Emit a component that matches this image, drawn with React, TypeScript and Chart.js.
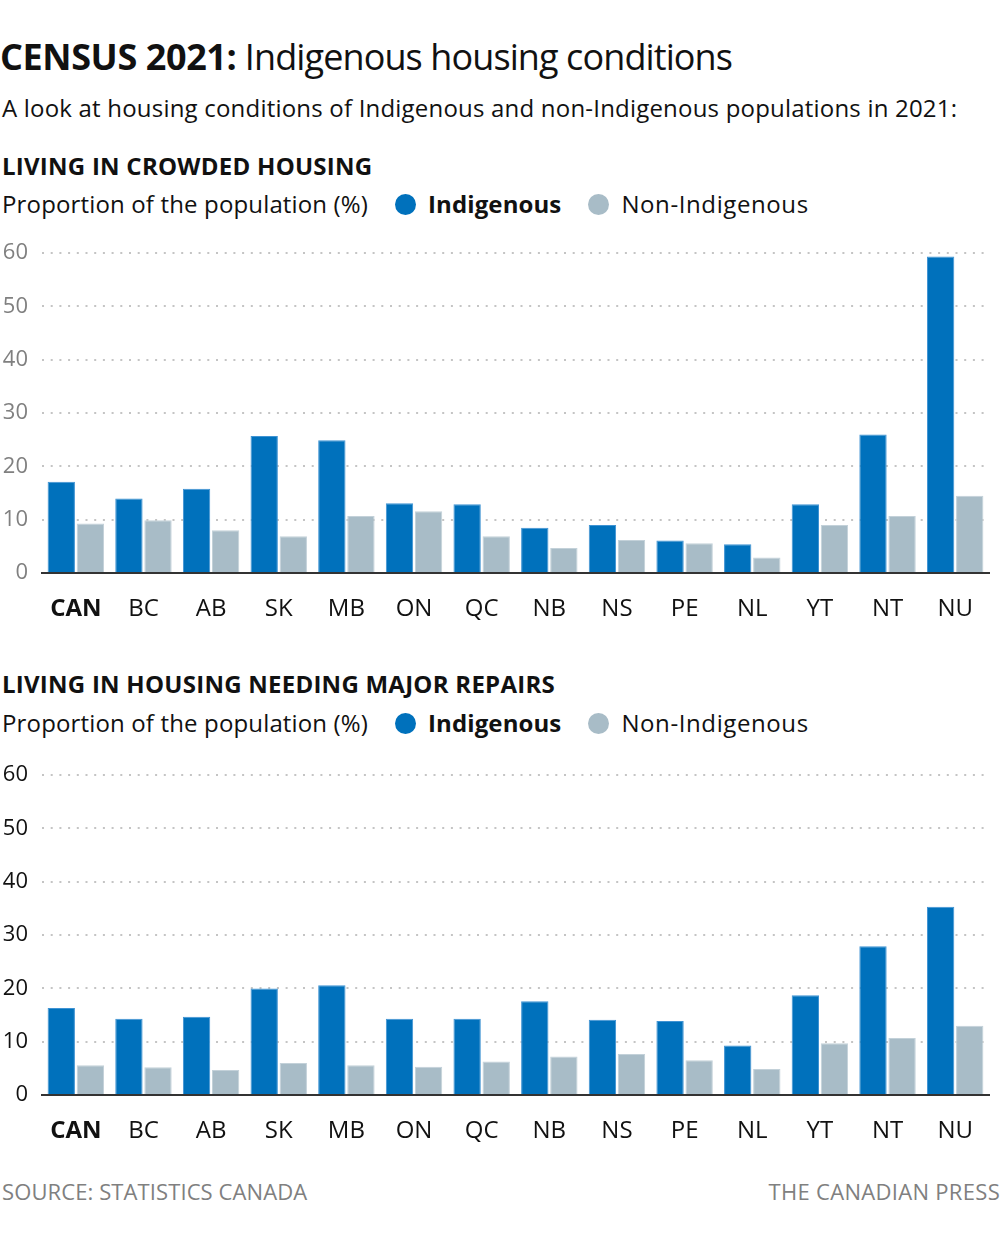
import React, { useEffect, useRef } from 'react';
import { Chart, registerables } from 'chart.js';

Chart.register(...registerables);

const categories = ['CAN', 'BC', 'AB', 'SK', 'MB', 'ON', 'QC', 'NB', 'NS', 'PE', 'NL', 'YT', 'NT', 'NU'];
const crowdedIndigenous = [17.1, 14.0, 15.8, 25.7, 24.9, 13.1, 12.9, 8.5, 9.0, 6.1, 5.4, 12.9, 26.0, 59.4];
const crowdedNonIndigenous = [9.3, 9.9, 8.0, 6.9, 10.7, 11.6, 6.9, 4.7, 6.2, 5.6, 2.9, 9.0, 10.7, 14.5];
const repairsIndigenous = [16.3, 14.3, 14.7, 20.0, 20.6, 14.3, 14.3, 17.6, 14.1, 13.9, 9.3, 18.7, 27.9, 35.3];
const repairsNonIndigenous = [5.6, 5.2, 4.7, 6.0, 5.6, 5.3, 6.3, 7.2, 7.7, 6.5, 4.9, 9.7, 10.7, 13.0];
const yTickValues = [0, 10, 20, 30, 40, 50, 60];
const seriesNames = ['Indigenous', 'Non-Indigenous'];

const FONT = '"Open Sans", "Noto Sans", sans-serif';
const BLUE = '#0071bc';
const GREY = '#a8bcc7';
const CANVAS_H = 406;

function BarChart({ ind, non, tickColor, top }: { ind: number[]; non: number[]; tickColor: string; top: number }) {
  const ref = useRef<HTMLCanvasElement | null>(null);
  useEffect(() => {
    if (!ref.current) return;
    const chart = new Chart(ref.current, {
      type: 'bar',
      data: {
        labels: categories,
        datasets: [
          {
            label: seriesNames[0],
            data: ind,
            backgroundColor: BLUE,
            borderColor: '#3f93d3',
            borderWidth: 1,
            barPercentage: 0.94,
            categoryPercentage: 0.86,
          },
          {
            label: seriesNames[1],
            data: non,
            backgroundColor: GREY,
            borderColor: '#c3d1d9',
            borderWidth: 1,
            barPercentage: 0.94,
            categoryPercentage: 0.86,
          },
        ],
      },
      options: {
        animation: false,
        responsive: false,
        maintainAspectRatio: false,
        layout: { padding: { left: 0, right: 11, top: 14, bottom: 0 } },
        plugins: { legend: { display: false }, tooltip: { enabled: false } },
        scales: {
          x: {
            grid: { display: false, drawTicks: false },
            border: { display: true, color: '#333333', width: 2 },
            ticks: {
              padding: 22,
              color: '#111111',
              font: (ctx: any) => ({ family: FONT, size: 24, weight: ctx.index === 0 ? 'bold' : 'normal' }),
            },
            afterFit: (scale: any) => {
              scale.height = 59;
            },
          },
          y: {
            min: 0,
            max: 60,
            afterBuildTicks: (scale: any) => {
              scale.ticks = yTickValues.map((v) => ({ value: v }));
            },
            grid: {
              drawTicks: false,
              lineWidth: 2,
              color: (ctx: any) => (ctx.tick && ctx.tick.value === 0 ? 'rgba(0,0,0,0)' : '#c4c4c4'),
            },
            border: { display: false, dash: [2, 6.7] },
            ticks: {
              padding: 14,
              color: tickColor,
              font: { family: FONT, size: 22 },
            },
            afterFit: (scale: any) => {
              scale.width = 42;
            },
          },
        },
      },
    });
    return () => chart.destroy();
  }, [ind, non, tickColor]);
  return (
    <div style={{ position: 'absolute', left: 0, top, width: 1000, height: CANVAS_H }}>
      <canvas ref={ref} width={1000} height={CANVAS_H} style={{ width: 1000, height: CANVAS_H }} />
    </div>
  );
}

const abs = (top: number, extra: React.CSSProperties = {}): React.CSSProperties => ({
  position: 'absolute',
  left: 2,
  top,
  whiteSpace: 'nowrap',
  fontFamily: FONT,
  ...extra,
});

function Legend({ top }: { top: number }) {
  return (
    <div style={abs(top, { fontSize: 24, lineHeight: '24px', color: '#111', display: 'flex', alignItems: 'center' })}>
      <span style={{ letterSpacing: 0.15 }}>Proportion of the population (%)</span>
      <span style={{ display: 'inline-block', width: 21, height: 21, borderRadius: '50%', background: BLUE, marginLeft: 27, marginRight: 12 }} />
      <span style={{ fontWeight: 700, letterSpacing: 0.1 }}>{seriesNames[0]}</span>
      <span style={{ display: 'inline-block', width: 21, height: 21, borderRadius: '50%', background: GREY, marginLeft: 27, marginRight: 12 }} />
      <span style={{ letterSpacing: 0.6 }}>{seriesNames[1]}</span>
    </div>
  );
}

export default function App() {
  useEffect(() => {
    document.body.style.margin = '0';
  }, []);
  return (
    <div style={{ position: 'relative', width: 1000, height: 1240, background: '#fff', overflow: 'hidden' }}>
      <div style={abs(39, { left: 0, fontSize: 36, lineHeight: '36px', color: '#111' })}>
        <span style={{ fontWeight: 700, letterSpacing: -0.4 }}>CENSUS 2021:</span>
        <span style={{ letterSpacing: -0.9 }}> Indigenous housing conditions</span>
      </div>
      <div style={abs(96, { fontSize: 24, lineHeight: '24px', color: '#111', letterSpacing: 0.2 })}>
        A look at housing conditions of Indigenous and non-Indigenous populations in 2021:
      </div>
      <div style={abs(154, { fontSize: 24, lineHeight: '24px', fontWeight: 700, color: '#111', letterSpacing: 0.25 })}>
        LIVING IN CROWDED HOUSING
      </div>
      <Legend top={192} />
      <BarChart ind={crowdedIndigenous} non={crowdedNonIndigenous} tickColor="#808080" top={226} />
      <div style={abs(672, { fontSize: 24, lineHeight: '24px', fontWeight: 700, color: '#111', letterSpacing: 0.25 })}>
        LIVING IN HOUSING NEEDING MAJOR REPAIRS
      </div>
      <Legend top={711} />
      <BarChart ind={repairsIndigenous} non={repairsNonIndigenous} tickColor="#111111" top={748} />
      <div style={abs(1180, { fontSize: 22, lineHeight: '22px', color: '#808080', letterSpacing: 0.1 })}>SOURCE: STATISTICS CANADA</div>
      <div style={abs(1180, { left: undefined, right: 0, fontSize: 22, lineHeight: '22px', color: '#808080', letterSpacing: 0.3 })}>
        THE CANADIAN PRESS
      </div>
    </div>
  );
}
